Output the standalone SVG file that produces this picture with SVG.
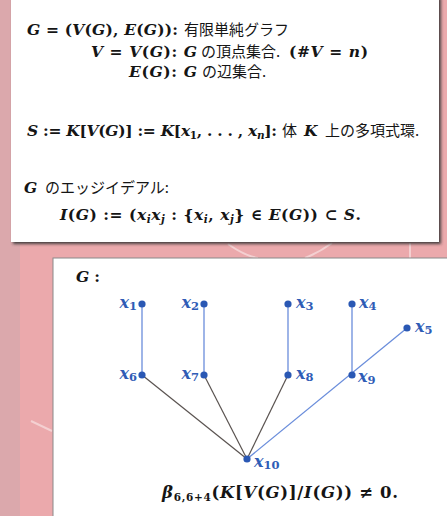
<svg xmlns="http://www.w3.org/2000/svg" width="447" height="516" viewBox="0 0 447 516">
<defs>
<style>
.m{font-family:"DejaVu Serif","Liberation Serif",serif;font-weight:bold;font-size:15.5px;fill:#151515}
.i{font-style:italic}
.s{font-size:10.5px}
.j{font-family:"Noto Sans CJK JP",sans-serif;font-weight:normal;font-size:15px;fill:#151515}
.lab{font-family:"DejaVu Serif","Liberation Serif",serif;font-weight:bold;font-style:italic;font-size:16px;fill:#2f5cb6}
.sub{font-style:normal;font-size:11.5px}
.dot{fill:#2a58b4}
.eb{stroke:#6a8ddb;stroke-width:1.3;fill:none}
.ed{stroke:#5a5350;stroke-width:1.2;fill:none}
.deco{stroke:#ffffff;stroke-opacity:0.45;stroke-width:2;fill:none}
</style>
<filter id="sh" x="-5%" y="-5%" width="110%" height="110%">
<feGaussianBlur in="SourceAlpha" stdDeviation="1.5"/>
<feOffset dx="2" dy="2" result="b"/>
<feFlood flood-color="#333" flood-opacity="0.9"/>
<feComposite in2="b" operator="in"/>
<feMerge><feMergeNode/><feMergeNode in="SourceGraphic"/></feMerge>
</filter>
</defs>
<!-- background -->
<rect x="0" y="0" width="447" height="516" fill="#eba9ac"/>
<rect x="0" y="0" width="20" height="516" fill="#dba8ac"/>
<path class="deco" d="M31 421 L52 431"/>
<path class="deco" d="M228 244 Q245 256 258 258"/>
<path class="deco" d="M305 258 Q320 252 332 243"/>
<path class="deco" d="M410 243 L410 258" stroke-width="1.5"/>

<!-- top box -->
<g id="box-top">
<rect x="11" y="-4" width="428" height="246" fill="#ffffff" filter="url(#sh)"/>
<text x="27" y="35" class="m" textLength="151" lengthAdjust="spacing"><tspan class="i">G</tspan> = (<tspan class="i">V</tspan>(<tspan class="i">G</tspan>), <tspan class="i">E</tspan>(<tspan class="i">G</tspan>)):</text>
<text x="184" y="35" class="j">有限単純グラフ</text>

<text x="91" y="57" class="m" textLength="106" lengthAdjust="spacing"><tspan class="i">V</tspan> = <tspan class="i">V</tspan>(<tspan class="i">G</tspan>): <tspan class="i">G</tspan></text>
<text x="201" y="57" class="j">の頂点集合.</text>
<text x="289" y="57" class="m" textLength="79" lengthAdjust="spacing">(#<tspan class="i">V</tspan> = <tspan class="i">n</tspan>)</text>

<text x="129" y="77" class="m" textLength="68" lengthAdjust="spacing"><tspan class="i">E</tspan>(<tspan class="i">G</tspan>): <tspan class="i">G</tspan></text>
<text x="202" y="77" class="j">の辺集合.</text>

<text x="27" y="136" class="m" textLength="250" lengthAdjust="spacing"><tspan class="i">S</tspan> := <tspan class="i">K</tspan>[<tspan class="i">V</tspan>(<tspan class="i">G</tspan>)] := <tspan class="i">K</tspan>[<tspan class="i">x</tspan><tspan class="s" dy="3">1</tspan><tspan dy="-3">, . . . , </tspan><tspan class="i">x</tspan><tspan class="i s" dy="3">n</tspan><tspan dy="-3">]:</tspan></text>
<text x="282" y="136" class="j">体</text>
<text x="304" y="136" class="m i">K</text>
<text x="325" y="136" class="j">上の多項式環.</text>

<text x="24" y="193" class="m i">G</text>
<text x="45" y="193" class="j">のエッジイデアル:</text>

<text x="60" y="220" class="m" font-size="16" textLength="301" lengthAdjust="spacing"><tspan class="i">I</tspan>(<tspan class="i">G</tspan>) := (<tspan class="i">x</tspan><tspan class="i s" dy="3">i</tspan><tspan class="i" dy="-3">x</tspan><tspan class="i s" dy="3">j</tspan><tspan dy="-3">  :  {</tspan><tspan class="i">x</tspan><tspan class="i s" dy="3">i</tspan><tspan dy="-3">, </tspan><tspan class="i">x</tspan><tspan class="i s" dy="3">j</tspan><tspan dy="-3">} ∈ </tspan><tspan class="i">E</tspan>(<tspan class="i">G</tspan>)) ⊂ <tspan class="i">S</tspan>.</text>
</g>

<!-- bottom box -->
<g id="box-bottom">
<rect x="53" y="258" width="400" height="262" fill="#ffffff" stroke="#8a8a8a" stroke-width="1"/>
<text x="76" y="282" class="m" textLength="24" lengthAdjust="spacing"><tspan class="i">G</tspan> :</text>
<text x="162" y="498" class="m" style="font-size:16.5px" textLength="236" lengthAdjust="spacing"><tspan class="i">β</tspan><tspan class="s" dy="3">6,6+4</tspan><tspan dy="-3">(</tspan><tspan class="i">K</tspan>[<tspan class="i">V</tspan>(<tspan class="i">G</tspan>)]/<tspan class="i">I</tspan>(<tspan class="i">G</tspan>)) ≠ 0.</text>
</g>

<!-- connectors -->
<g id="edges">
<line class="eb" x1="142" y1="304" x2="142" y2="375"/>
<line class="eb" x1="204" y1="304" x2="204" y2="375"/>
<line class="eb" x1="288" y1="304" x2="288" y2="375"/>
<line class="eb" x1="352" y1="304" x2="352" y2="375"/>
<line class="eb" x1="407" y1="328" x2="247" y2="459"/>
<line class="ed" x1="142" y1="375" x2="247" y2="459"/>
<line class="ed" x1="204" y1="375" x2="247" y2="459"/>
<line class="ed" x1="288" y1="375" x2="247" y2="459"/>
</g>

<!-- nodes -->
<g id="x1"><circle class="dot" cx="142" cy="304" r="3.6"/><text class="lab" x="137" y="308" text-anchor="end">x<tspan class="sub" dy="2">1</tspan></text></g>
<g id="x2"><circle class="dot" cx="204" cy="304" r="3.6"/><text class="lab" x="199" y="308" text-anchor="end">x<tspan class="sub" dy="2">2</tspan></text></g>
<g id="x3"><circle class="dot" cx="288" cy="304" r="3.6"/><text class="lab" x="296" y="308">x<tspan class="sub" dy="2">3</tspan></text></g>
<g id="x4"><circle class="dot" cx="352" cy="304" r="3.6"/><text class="lab" x="359" y="308">x<tspan class="sub" dy="2">4</tspan></text></g>
<g id="x5"><circle class="dot" cx="407" cy="328" r="3.6"/><text class="lab" x="415" y="332">x<tspan class="sub" dy="2">5</tspan></text></g>
<g id="x6"><circle class="dot" cx="142" cy="375" r="3.6"/><text class="lab" x="137" y="379" text-anchor="end">x<tspan class="sub" dy="2">6</tspan></text></g>
<g id="x7"><circle class="dot" cx="204" cy="375" r="3.6"/><text class="lab" x="199" y="379" text-anchor="end">x<tspan class="sub" dy="2">7</tspan></text></g>
<g id="x8"><circle class="dot" cx="288" cy="375" r="3.6"/><text class="lab" x="296" y="379">x<tspan class="sub" dy="2">8</tspan></text></g>
<g id="x9"><circle class="dot" cx="352" cy="375" r="3.6"/><text class="lab" x="358" y="382">x<tspan class="sub" dy="2">9</tspan></text></g>
<g id="x10"><circle class="dot" cx="247" cy="459" r="3.6"/><text class="lab" x="254" y="467">x<tspan class="sub" dy="2">10</tspan></text></g>
</svg>
